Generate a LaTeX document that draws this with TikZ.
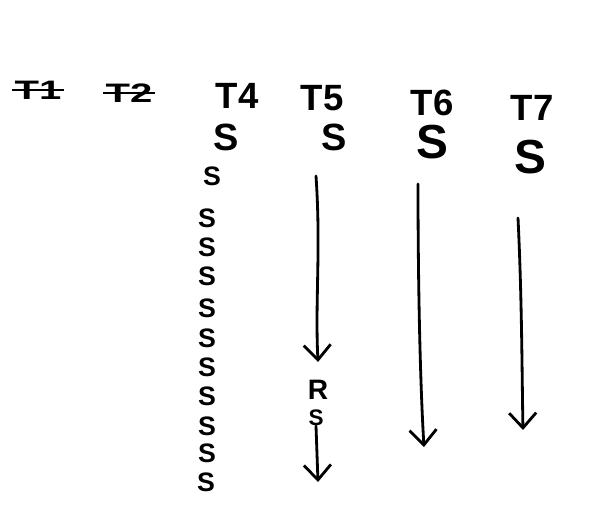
\documentclass[tikz,border=0pt]{standalone}
\usepackage{fontspec}
\setmainfont{Liberation Sans}
\usetikzlibrary{arrows.meta, positioning}

\begin{document}
\begin{tikzpicture}[
    x=0.05cm, y=-0.05cm,
    head/.style={inner sep=0pt, font=\fontsize{52}{52}\selectfont\bfseries},
    oldhead/.style={inner sep=0pt, font=\fontsize{38}{38}\selectfont\bfseries},
    bigs/.style={inner sep=0pt, font=\fontsize{54}{54}\selectfont\bfseries},
    smalls/.style={inner sep=0pt, font=\fontsize{38}{38}\selectfont\bfseries},
    strike/.style={line width=3.5pt},
    arrow/.style={-{Straight Barb[length=0.75cm, width=1.35cm]}, line width=4pt, line cap=round}
]
\useasboundingbox (0,0) rectangle (589,507);

% Column heads (T1, T2 struck out)
\node (t1) [oldhead] at (38,90) {\scalebox{1.5}[1]{T1}};
\node (t2) [oldhead] at (129,93) {\scalebox{1.5}[1]{T2}};
\node (t4) [head] at (237,96) {T4};
\node (t5) [head] at (322,98) {T5};
\node (t6) [head] at (432,103) {T6};
\node (t7) [head] at (532,108) {T7};
\draw [strike] ([xshift=-3pt]t1.west) -- ([xshift=3pt]t1.east);
\draw [strike] ([xshift=-3pt]t2.west) -- ([xshift=3pt]t2.east);

% First S under each head
\node (s4) [bigs] at (226,137) {S};
\node (s5) [bigs] at (334,137) {S};
\node (s6) [bigs, font=\fontsize{68}{68}\selectfont\bfseries] at (432,142) {S};
\node (s7) [bigs, font=\fontsize{68}{68}\selectfont\bfseries] at (530,157) {S};

% Stack of S under T4
\foreach \px/\py [count=\i] in {212/176, 207/218, 207/247, 207/276, 207/308,
                                207/338, 207/367, 207/396, 207/426, 207/453, 206/482}
    \node (st\i) [smalls] at (\px,\py) {S};

% R and S after the first T5 arrow
\node (r5) [smalls, font=\fontsize{40}{40}\selectfont\bfseries] at (318,390) {R};
\node (s5b) [smalls, font=\fontsize{32}{32}\selectfont\bfseries] at (316,418) {S};

% Arrow ends
\coordinate (a5) at (316,176);
\coordinate (b5) at (318,362);
\coordinate (c5) at (318,482);
\coordinate (a6) at (418,184);
\coordinate (b6) at (424,447);
\coordinate (a7) at (518,218);
\coordinate (b7) at (523,430);

% Connections
\draw [arrow] (a5) .. controls (321,250) and (315,300) .. (b5);
\draw [arrow] (s5b.south) -- (c5);
\draw [arrow] (a6) .. controls (418,280) and (420,380) .. (b6);
\draw [arrow] (a7) .. controls (522,300) and (522,380) .. (b7);

\end{tikzpicture}
\end{document}
